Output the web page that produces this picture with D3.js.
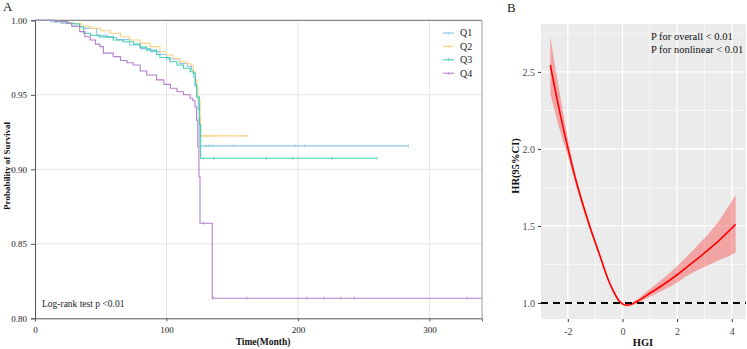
<!DOCTYPE html>
<html>
<head>
<meta charset="utf-8">
<script src="https://cdn.jsdelivr.net/npm/d3@7"></script>
<style>
html,body{margin:0;padding:0;background:#fff;}
text{font-family:"Liberation Serif","Times New Roman",serif;}
</style>
</head>
<body>
<svg id="chart" width="747" height="349"></svg>
<script>
// ---------- Panel A data (Kaplan-Meier) ----------
const groups = ["Q1","Q2","Q3","Q4"];
const groupColors = ["#8DC4EA","#F9D07E","#45CDB2","#B47FCB"];
const q1Time = [0,12,20,28,37,47,55,62,72,80,88,95,100,110,116,119,120.5,121.7,123,124.2,125];
const q1Surv = [1,0.999,0.998,0.996,0.9946,0.990,0.9885,0.987,0.9834,0.981,0.979,0.977,0.974,0.971,0.969,0.9667,0.962,0.9555,0.948,0.940,0.9157];
const q2Time = [0,15,25,35,42,50,57,65,72,80,87.5,95,100,105,110,115,118,120.4,122,123,124,125.5,126];
const q2Surv = [1,0.999,0.998,0.996,0.9946,0.993,0.9913,0.989,0.9868,0.9845,0.9823,0.9789,0.9767,0.9745,0.9722,0.971,0.970,0.9655,0.960,0.9555,0.947,0.935,0.9224];
const q3Time = [0,15,25,30,34,37,42,49,59.5,67,75,80,85,92.5,95,102.6,108,113,118,120.4,122,123,125,126];
const q3Surv = [1,0.999,0.998,0.9975,0.9955,0.9913,0.990,0.9889,0.9868,0.9856,0.984,0.982,0.980,0.977,0.975,0.9722,0.970,0.9678,0.9655,0.9644,0.957,0.9487,0.930,0.9074];
const q4Time = [0,15,20,24,28,34,38,42,46,49.4,52,59.5,65,70,74.7,80,85,92.5,98,103,108,113,118,120,121.7,122.9,123.8,124.7,125.5,134.8];
const q4Surv = [1,0.9995,0.999,0.998,0.996,0.9924,0.989,0.9868,0.984,0.9823,0.978,0.9756,0.973,0.9715,0.970,0.966,0.9633,0.960,0.957,0.9544,0.952,0.950,0.9477,0.946,0.942,0.933,0.915,0.895,0.8638,0.8135];
const groupEnd = [284,162,260,340];
const q1Censor = [130,132,134,136,151,198,205,284];
const q2Censor = [127,129,131,133,137,162];
const q3Censor = [128,136,176,196,226,260];
const q4Censor = [128,135.6,161,206.6,220,232.5,243,328.7];
const kmXTicks = [0,100,200,300];
const kmYTicks = [0.80,0.85,0.90,0.95,1.00];

// ---------- Panel B data (RCS) ----------
const hgi     = [-2.64,-2.3,-1.99,-1.68,-1.2,-0.83,-0.47,-0.1,0.15,0.51,1.0,1.5,1.98,2.4,2.83,3.2,3.56,3.85,4.14];
const hrFit   = [2.545,2.245,2.00,1.782,1.50,1.31,1.13,1.01,0.985,1.008,1.063,1.12,1.18,1.24,1.30,1.355,1.41,1.46,1.51];
const hrLower = [2.36,2.13,1.95,1.75,1.48,1.295,1.12,1.0,0.978,0.995,1.04,1.085,1.13,1.18,1.22,1.25,1.28,1.30,1.327];
const hrUpper = [2.73,2.37,2.06,1.81,1.52,1.325,1.14,1.02,0.992,1.02,1.09,1.16,1.235,1.31,1.39,1.46,1.54,1.62,1.70];
const rcsXTicks = [-2,0,2,4];
const rcsXMinor = [-3,-1,1,3];
const rcsYTicks = [1.0,1.5,2.0,2.5];
const rcsYMinor = [1.25,1.75,2.25,2.75];

const svg = d3.select("#chart");

// ================= Panel A =================
const A = {l:35, r:482, t:20.3, b:318.3};
const xA = d3.scaleLinear().domain([0,340]).range([A.l, A.r]);
const yA = d3.scaleLinear().domain([0.80,1.00]).range([A.b, A.t]);
const gA = svg.append("g");

gA.selectAll(".vg").data(kmXTicks.filter(d=>d>0)).enter().append("line")
  .attr("x1",d=>xA(d)).attr("x2",d=>xA(d)).attr("y1",A.t).attr("y2",A.b)
  .attr("stroke","#E4E4E4").attr("stroke-width",1);
gA.selectAll(".hg").data(kmYTicks.filter(d=>d>0.8 && d<1)).enter().append("line")
  .attr("x1",A.l).attr("x2",A.r).attr("y1",d=>yA(d)).attr("y2",d=>yA(d))
  .attr("stroke","#E4E4E4").attr("stroke-width",1);
gA.append("line").attr("x1",A.l).attr("x2",A.r).attr("y1",A.t).attr("y2",A.t).attr("stroke","#6a6a6a").attr("stroke-width",1);
gA.append("line").attr("x1",A.r).attr("x2",A.r).attr("y1",A.t).attr("y2",A.b).attr("stroke","#9a9a9a").attr("stroke-width",1);

const times = [q1Time,q2Time,q3Time,q4Time];
const survs = [q1Surv,q2Surv,q3Surv,q4Surv];
const censors = [q1Censor,q2Censor,q3Censor,q4Censor];
const lineA = d3.line().x(d=>xA(d[0])).y(d=>yA(d[1])).curve(d3.curveStepAfter);
function survAt(i,t){
  let s=1; const T=times[i], S=survs[i];
  for(let k=0;k<T.length;k++){ if(T[k]<=t) s=S[k]; }
  return s;
}
[0,1,2,3].forEach(i=>{
  const pts = times[i].map((t,k)=>[t,survs[i][k]]);
  pts.push([groupEnd[i], survs[i][survs[i].length-1]]);
  gA.append("path").datum(pts).attr("d",lineA)
    .attr("fill","none").attr("stroke",groupColors[i]).attr("stroke-width",1.1);
  gA.selectAll(".c"+i).data(censors[i]).enter().append("line")
    .attr("x1",d=>xA(d)).attr("x2",d=>xA(d))
    .attr("y1",d=>yA(survAt(i,d))-1.5).attr("y2",d=>yA(survAt(i,d))+1.5)
    .attr("stroke",groupColors[i]).attr("stroke-width",0.7);
});

const axA_x = gA.append("g").attr("transform",`translate(0,${A.b})`)
  .call(d3.axisBottom(xA).tickValues(kmXTicks).tickSize(3).tickFormat(d3.format("d")));
const axA_y = gA.append("g").attr("transform",`translate(${A.l},0)`)
  .call(d3.axisLeft(yA).tickValues(kmYTicks).tickSize(4).tickFormat(d3.format(".2f")));
[axA_x,axA_y].forEach(ax=>{
  ax.select(".domain").attr("stroke","#555").attr("stroke-width",1);
  ax.selectAll(".tick line").attr("stroke","#555");
  ax.selectAll("text").attr("font-family","Liberation Serif").attr("font-size",9).attr("fill","#222");
});
axA_x.selectAll("text").attr("dy","0.95em");
axA_y.selectAll("text").attr("dx","-0.1em");

svg.append("text").attr("x",3).attr("y",11).attr("font-size",13).attr("fill","#222").text("A");
svg.append("text").attr("x",263).attr("y",345).attr("text-anchor","middle")
  .attr("font-size",9.5).attr("font-weight","bold").attr("fill","#111").text("Time(Month)");
svg.append("text").attr("transform","translate(10,166) rotate(-90)").attr("text-anchor","middle")
  .attr("font-size",9).attr("font-weight","bold").attr("fill","#111").text("Probability of Survival");
svg.append("text").attr("x",42).attr("y",307).attr("font-size",9.5).attr("fill","#222").text("Log-rank test p <0.01");

groups.forEach((g,i)=>{
  const y = 33 + i*13.4;
  svg.append("line").attr("x1",443).attr("x2",454).attr("y1",y).attr("y2",y)
    .attr("stroke",groupColors[i]).attr("stroke-width",1.1);
  svg.append("line").attr("x1",448.5).attr("x2",448.5).attr("y1",y-1.5).attr("y2",y+1.5)
    .attr("stroke",groupColors[i]).attr("stroke-width",0.7);
  svg.append("text").attr("x",460).attr("y",y+3.3).attr("font-size",10).attr("fill","#222").text(g);
});

// ================= Panel B =================
const B = {l:541, r:746, t:24, b:319};
const xB = d3.scaleLinear().domain([-2.98,4.52]).range([B.l,B.r]);
const yB = d3.scaleLinear().domain([0.896,2.811]).range([B.b,B.t]);
const gB = svg.append("g");
gB.append("rect").attr("x",B.l).attr("y",B.t).attr("width",B.r-B.l).attr("height",B.b-B.t).attr("fill","#EBEBEB");
gB.selectAll(".mnx").data(rcsXMinor).enter().append("line")
  .attr("x1",d=>xB(d)).attr("x2",d=>xB(d)).attr("y1",B.t).attr("y2",B.b).attr("stroke","#fff").attr("stroke-width",0.6);
gB.selectAll(".mny").data(rcsYMinor).enter().append("line")
  .attr("x1",B.l).attr("x2",B.r).attr("y1",d=>yB(d)).attr("y2",d=>yB(d)).attr("stroke","#fff").attr("stroke-width",0.6);
gB.selectAll(".mjx").data(rcsXTicks).enter().append("line")
  .attr("x1",d=>xB(d)).attr("x2",d=>xB(d)).attr("y1",B.t).attr("y2",B.b).attr("stroke","#fff").attr("stroke-width",1.2);
gB.selectAll(".mjy").data(rcsYTicks).enter().append("line")
  .attr("x1",B.l).attr("x2",B.r).attr("y1",d=>yB(d)).attr("y2",d=>yB(d)).attr("stroke","#fff").attr("stroke-width",1.2);

const rcsPts = hgi.map((h,k)=>({x:h, y:hrFit[k], lo:hrLower[k], hi:hrUpper[k]}));
gB.append("path").datum(rcsPts)
  .attr("d",d3.area().x(d=>xB(d.x)).y0(d=>yB(d.lo)).y1(d=>yB(d.hi)).curve(d3.curveCatmullRom.alpha(0.5)))
  .attr("fill","#FF0000").attr("fill-opacity",0.3);
gB.append("path").datum(rcsPts)
  .attr("d",d3.line().x(d=>xB(d.x)).y(d=>yB(d.y)).curve(d3.curveCatmullRom.alpha(0.5)))
  .attr("fill","none").attr("stroke","#FF0000").attr("stroke-width",1.6);
gB.append("line").attr("x1",B.l).attr("x2",B.r).attr("y1",yB(1)).attr("y2",yB(1))
  .attr("stroke","#000").attr("stroke-width",1.8).attr("stroke-dasharray","7,5");

const axB_x = gB.append("g").attr("transform",`translate(0,${B.b})`)
  .call(d3.axisBottom(xB).tickValues(rcsXTicks).tickSize(3).tickFormat(d=>String(d)));
const axB_y = gB.append("g").attr("transform",`translate(${B.l},0)`)
  .call(d3.axisLeft(yB).tickValues(rcsYTicks).tickSize(3).tickFormat(d3.format(".1f")));
[axB_x,axB_y].forEach(ax=>{
  ax.select(".domain").remove();
  ax.selectAll(".tick line").attr("stroke","#333");
  ax.selectAll("text").attr("font-family","Liberation Serif").attr("font-size",10).attr("fill","#4D4D4D");
});
axB_x.selectAll("text").attr("dy","0.95em");

svg.append("text").attr("x",507).attr("y",12).attr("font-size",13).attr("fill","#222").text("B");
svg.append("text").attr("x",643).attr("y",346).attr("text-anchor","middle")
  .attr("font-size",10.5).attr("font-weight","bold").attr("fill","#111").text("HGI");
svg.append("text").attr("transform","translate(519,166) rotate(-90)").attr("text-anchor","middle")
  .attr("font-size",10.5).attr("font-weight","bold").attr("fill","#111").text("HR(95%CI)");
svg.append("text").attr("x",651).attr("y",40).attr("font-size",10.5).attr("fill","#111").text("P for overall < 0.01");
svg.append("text").attr("x",651).attr("y",53).attr("font-size",10.5).attr("fill","#111").text("P for nonlinear < 0.01");
</script>
</body>
</html>
